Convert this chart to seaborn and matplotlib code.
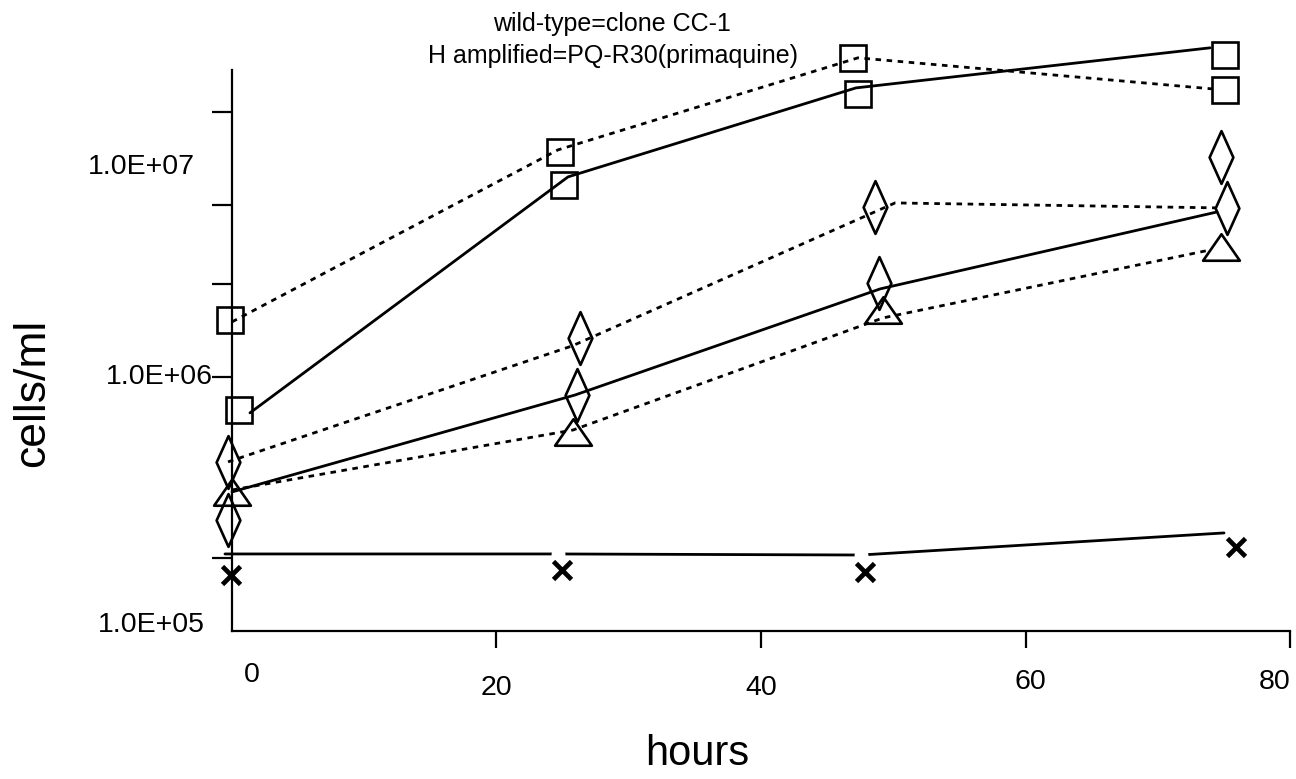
import numpy as np
import pandas as pd
import matplotlib
matplotlib.use("Agg")
import matplotlib.pyplot as plt
import seaborn as sns
from matplotlib.path import Path
from matplotlib.ticker import NullLocator
from matplotlib.transforms import ScaledTranslation

# ---------------- data ----------------
# marker series
sq_dash_x = [-0.15, 24.80, 46.96, 75.08]
sq_dash_y = [1.676e6, 7.69e6, 1.803e7, 1.349e7]
sq_solid_x = [0.53, 25.10, 47.33, 75.08]
sq_solid_y = [7.42e5, 5.70e6, 1.301e7, 1.853e7]
dia_up_x = [-0.30, 26.31, 48.62, 74.78]
dia_up_y = [4.63e5, 1.424e6, 4.67e6, 7.35e6]
dia_lo_x = [-0.30, 26.09, 48.92, 75.24]
dia_lo_y = [2.735e5, 8.49e5, 2.345e6, 4.63e6]
tri_x = [0.0, 25.78, 49.22, 74.78]
tri_y = [3.526e5, 6.07e5, 1.835e6, 3.25e6]
cross_x = [-0.08, 24.95, 47.86, 75.92]
cross_y = [1.662e5, 1.739e5, 1.707e5, 2.141e5]

# line series
l_sq_dash_x = [0.0, 24.65, 47.33, 74.10]
l_sq_dash_y = [1.647e6, 7.83e6, 1.803e7, 1.361e7]
l_sq_solid_x = [1.36, 25.41, 47.18, 73.95]
l_sq_solid_y = [7.22e5, 6.13e6, 1.373e7, 1.974e7]
l_dia_dash_x = [-0.30, 25.71, 50.13, 74.33]
l_dia_dash_y = [4.63e5, 1.324e6, 4.84e6, 4.63e6]
l_solid_x = [0.0, 25.94, 49.00, 74.48]
l_solid_y = [3.526e5, 8.49e5, 2.22e6, 4.46e6]
l_tri_dash_x = [0.0, 25.78, 49.22, 73.95]
l_tri_dash_y = [3.59e5, 6.18e5, 1.707e6, 3.16e6]
l_cross_x = [-0.53, 24.65, 47.56, 75.01]
l_cross_y = [2.01e5, 2.01e5, 1.991e5, 2.432e5]

# axis text
x_ticks = [0, 20, 40, 60, 80]
x_tick_labels = ["0", "20", "40", "60", "80"]
y_tick_marks = [1.105e7, 4.755e6, 2.323e6, 1.0e6, 1.939e5]
y_label_texts = ["1.0E+07", "1.0E+06", "1.0E+05"]
y_label_vals = [6.71e6, 1.0e6, 1.056e5]
title_lines = ["wild-type=clone CC-1", "H amplified=PQ-R30(primaquine)"]

# ---------------- style ----------------
sns.set_theme(style="white")
plt.rcParams["font.family"] = ["Liberation Sans", "DejaVu Sans"]
plt.rcParams["text.color"] = "black"
plt.rcParams["axes.labelcolor"] = "black"
plt.rcParams["xtick.color"] = "black"
plt.rcParams["ytick.color"] = "black"

fig = plt.figure(figsize=(12.96, 7.79), dpi=100)
ax = fig.add_axes([0.1790, 0.1900, 0.8164, 0.7587])
ax.set_yscale("log")
ax.set_xlim(0, 80)
ax.set_ylim(1e5, 2.12e7)

DOT = (0, (2, 2))
LW = 2.0

def line(x, y, ls, **kw):
    sns.lineplot(x=x, y=y, ax=ax, estimator=None, sort=False, color="black",
                 linewidth=LW, linestyle=ls, clip_on=False, zorder=2, **kw)

def marks(x, y, marker, ms, mew=1.9):
    sns.lineplot(x=x, y=y, ax=ax, estimator=None, sort=False, color="black",
                 linestyle="", marker=marker, markersize=ms, mfc="none",
                 mec="black", mew=mew, clip_on=False, zorder=3)

line(l_sq_dash_x, l_sq_dash_y, DOT)
line(l_sq_solid_x, l_sq_solid_y, "-")
line(l_dia_dash_x, l_dia_dash_y, DOT)
line(l_solid_x, l_solid_y, "-")
line(l_tri_dash_x, l_tri_dash_y, DOT)
line(l_cross_x, l_cross_y, "-")
# gaps in the cross line at its inner vertices
sns.lineplot(x=l_cross_x, y=l_cross_y, ax=ax, estimator=None, sort=False,
             linestyle="", marker="o", markersize=10, mfc="white", mec="white",
             mew=0, markevery=[1, 2], zorder=2.5, color="white")

diamond = Path([(-0.45, 0), (0, 1), (0.45, 0), (0, -1), (-0.45, 0)],
               [Path.MOVETO, Path.LINETO, Path.LINETO, Path.LINETO, Path.CLOSEPOLY])
triangle = Path([(0, 0.72), (-1, -0.72), (1, -0.72), (0, 0.72)],
                [Path.MOVETO, Path.LINETO, Path.LINETO, Path.CLOSEPOLY])

marks(sq_dash_x, sq_dash_y, "s", 19)
marks(sq_solid_x, sq_solid_y, "s", 19)
marks(dia_up_x, dia_up_y, diamond, 38)
marks(dia_lo_x, dia_lo_y, diamond, 38)
marks(tri_x, tri_y, triangle, 26.5)
marks(cross_x, cross_y, "x", 13, mew=3.4)

# spines
for s in ["top", "right"]:
    ax.spines[s].set_visible(False)
for s in ["left", "bottom"]:
    ax.spines[s].set_color("black")
    ax.spines[s].set_linewidth(1.6)
ax.spines["left"].set_bounds(1e5, 1.617e7)

# y ticks (marks only) and labels as text
ax.yaxis.set_minor_locator(NullLocator())
ax.set_yticks(y_tick_marks)
ax.set_yticklabels([])
ax.tick_params(axis="y", which="major", direction="out", length=14.5, width=1.6,
               color="black", left=True)
ax.minorticks_off()
yl_x = [-0.035, -0.018, -0.0255]
for txt, val, xx in zip(y_label_texts, y_label_vals, yl_x):
    ax.text(xx, val, txt, transform=ax.get_yaxis_transform(), ha="right",
            va="center", fontsize=20.5, color="black")

# x ticks
ax.set_xticks(x_ticks)
ax.set_xticklabels(x_tick_labels)
ax.tick_params(axis="x", direction="out", length=12.5, width=1.6, color="black",
               pad=10, labelsize=20.5, bottom=True, labelcolor="black")
ax.xaxis.get_major_ticks()[0].tick1line.set_visible(False)
# per-label shifts (inches) to mimic the original placement
shifts = [(0.20, 0.0), (0.0, -0.13), (0.0, -0.13), (0.05, -0.07), (-0.15, -0.07)]
for lab, (dx, dy) in zip(ax.get_xticklabels(), shifts):
    lab.set_transform(lab.get_transform() + ScaledTranslation(dx, dy, fig.dpi_scale_trans))

ax.grid(False)
ax.set_facecolor("white")

# titles / axis labels
fig.text(612 / 1296, 1 - 24 / 779, title_lines[0], ha="center", va="center", fontsize=18)
fig.text(613 / 1296, 1 - 56 / 779, title_lines[1], ha="center", va="center", fontsize=18)
fig.text(33 / 1296, 1 - 393 / 779, "cells/ml", rotation=90, ha="center", va="center", fontsize=32)
fig.text(697 / 1296, 1 - 754 / 779, "hours", ha="center", va="center", fontsize=30)

fig.savefig("out.png", dpi=100, facecolor="white")
